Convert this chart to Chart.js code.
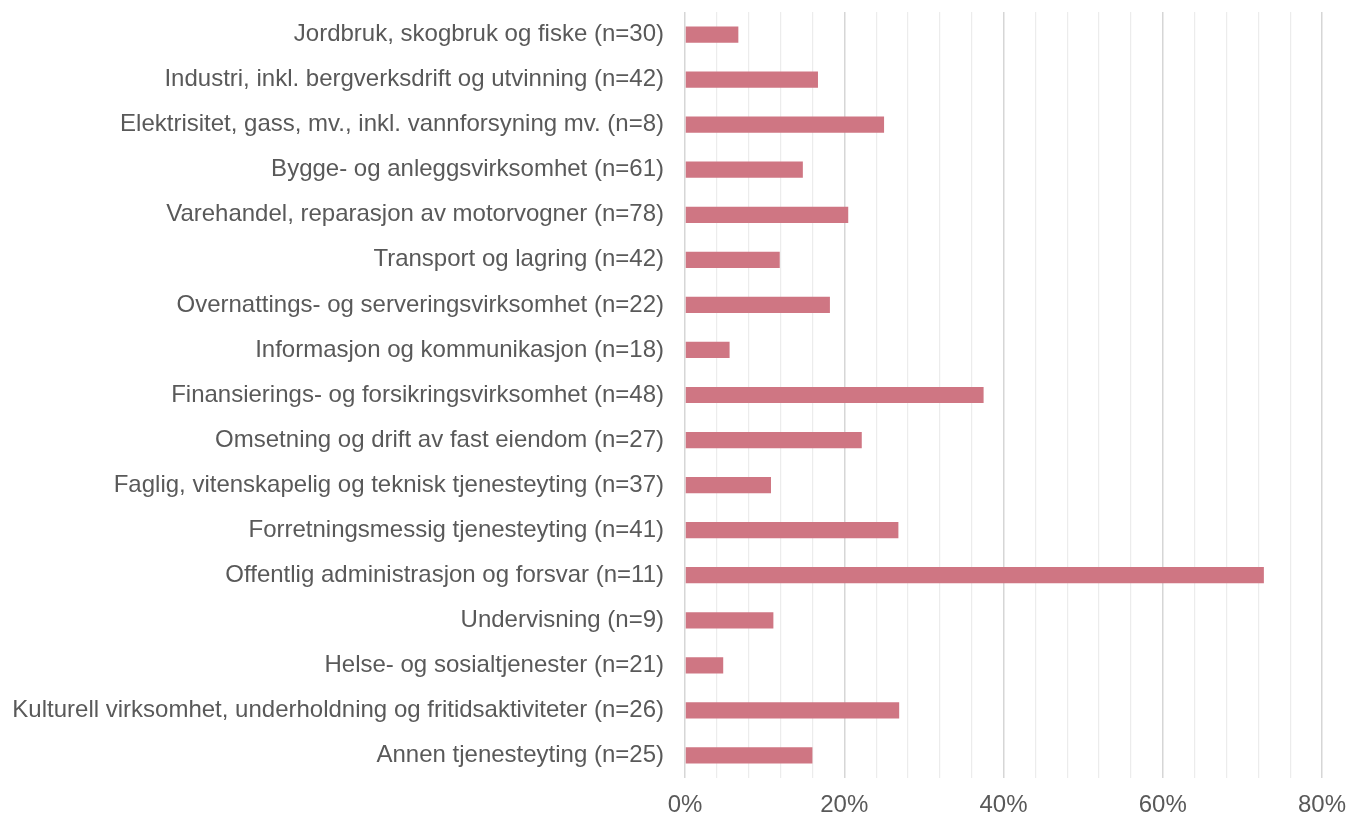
<!DOCTYPE html>
<html>
<head>
<meta charset="utf-8">
<script src="https://cdn.jsdelivr.net/npm/chart.js@4/dist/chart.umd.min.js"></script>
<style>
  html, body { margin: 0; padding: 0; background: #fff; }
  #wrap { width: 1348px; height: 818px; }
</style>
</head>
<body>
<div id="wrap"><canvas id="myChart" width="1348" height="818"></canvas></div>
<script>
// categories (næring) and share in percent
const categories = [
  'Jordbruk, skogbruk og fiske (n=30)',
  'Industri, inkl. bergverksdrift og utvinning (n=42)',
  'Elektrisitet, gass, mv., inkl. vannforsyning mv. (n=8)',
  'Bygge- og anleggsvirksomhet (n=61)',
  'Varehandel, reparasjon av motorvogner (n=78)',
  'Transport og lagring (n=42)',
  'Overnattings- og serveringsvirksomhet (n=22)',
  'Informasjon og kommunikasjon (n=18)',
  'Finansierings- og forsikringsvirksomhet (n=48)',
  'Omsetning og drift av fast eiendom (n=27)',
  'Faglig, vitenskapelig og teknisk tjenesteyting (n=37)',
  'Forretningsmessig tjenesteyting (n=41)',
  'Offentlig administrasjon og forsvar (n=11)',
  'Undervisning (n=9)',
  'Helse- og sosialtjenester (n=21)',
  'Kulturell virksomhet, underholdning og fritidsaktiviteter (n=26)',
  'Annen tjenesteyting (n=25)'
];
const shares = [6.7, 16.7, 25.0, 14.8, 20.5, 11.9, 18.2, 5.6, 37.5, 22.2, 10.8, 26.8, 72.7, 11.1, 4.8, 26.9, 16.0];
const xTickLabels = ['0%', '20%', '40%', '60%', '80%'];

const fontFamily = '"Liberation Sans", Arial, sans-serif';

const ctx = document.getElementById('myChart');
new Chart(ctx, {
  type: 'bar',
  data: {
    labels: categories,
    datasets: [{
      data: shares,
      backgroundColor: '#cf7683',
      borderWidth: 0,
      categoryPercentage: 1,
      barPercentage: 0.36
    }]
  },
  options: {
    indexAxis: 'y',
    responsive: false,
    animation: false,
    layout: { padding: { top: 12, right: 26, left: 0, bottom: 0 } },
    plugins: { legend: { display: false }, tooltip: { enabled: false } },
    scales: {
      x: {
        min: 0,
        max: 80,
        border: { display: false },
        grid: {
          drawTicks: false,
          color: c => (c.tick && c.tick.value % 20 === 0) ? '#d6d6d6' : '#ececec',
          lineWidth: c => (c.tick && c.tick.value % 20 === 0) ? 1.5 : 1.2
        },
        ticks: {
          stepSize: 4,
          autoSkip: false,
          maxRotation: 0,
          padding: 13,
          color: '#595959',
          font: { family: fontFamily, size: 24 },
          callback: v => v % 20 === 0 ? xTickLabels[v / 20] : ''
        },
        afterFit: s => { s.height = 40; s.paddingLeft = 0; s.paddingRight = 0; }
      },
      y: {
        border: { display: false },
        grid: { display: false, drawTicks: false },
        ticks: {
          padding: 21,
          color: '#595959',
          font: { family: fontFamily, size: 24 }
        },
        afterFit: s => { s.width = 685; s.paddingTop = 0; s.paddingBottom = 0; }
      }
    }
  }
});
</script>
</body>
</html>
